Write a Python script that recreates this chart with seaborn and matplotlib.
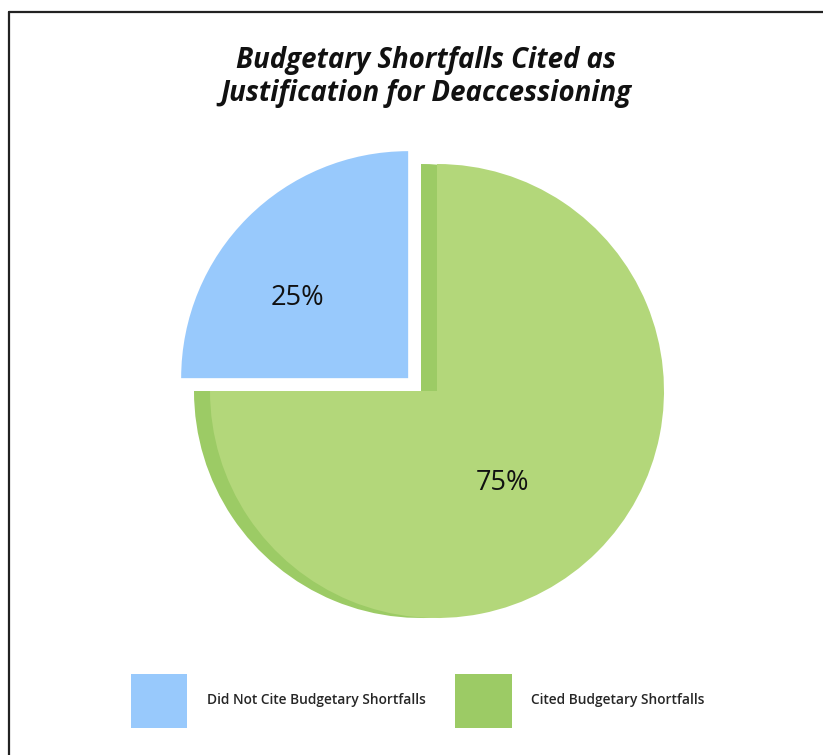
import matplotlib
matplotlib.use("Agg")
import matplotlib.pyplot as plt
from matplotlib.patches import Patch
from matplotlib.lines import Line2D
import seaborn as sns

sns.set_theme(style="white")
plt.rcParams['font.family'] = ['Open Sans', 'DejaVu Sans']

title = "Budgetary Shortfalls Cited as\nJustification for Deaccessioning"
categories = ["Did Not Cite Budgetary Shortfalls", "Cited Budgetary Shortfalls"]
values = [25, 75]
face_colors = ["#98C9FC", "#B3D77A"]
edge_colors = ["#98C9FC", "#9CCB65"]
legend_colors = ["#98C9FC", "#9CCB65"]

W, H = 823, 755
fig = plt.figure(figsize=(W / 100, H / 100), dpi=100)
ax = fig.add_axes([0, 0, 1, 1])

cx, cy, R = 421, 391, 227
shift = 16 / R
explode = [0.08, 0]

# Shadow layer (darker green) + blue slice, with percentage labels
_, _, autotexts = ax.pie(values, startangle=90, colors=[face_colors[0], edge_colors[1]],
                         explode=explode, autopct='%d%%', pctdistance=0.6,
                         textprops=dict(fontsize=19.5, color='#111111'),
                         wedgeprops=dict(linewidth=0))
# Face layer (lighter green), shifted right
w2, _ = ax.pie(values, startangle=90, colors=['none', face_colors[1]],
               explode=explode, center=(shift, 0),
               wedgeprops=dict(linewidth=0))
w2[0].set_visible(False)
for t in autotexts:
    t.set_zorder(10)
autotexts[0].set_position((-0.546, 0.41))
autotexts[1].set_position((0.361, -0.405))

ax.set_xlim(-cx / R, (W - cx) / R)
ax.set_ylim((cy - H) / R, cy / R)
ax.axis('off')

fig.text(426 / W, 1 - 77 / H, title, ha='center', va='center',
         fontsize=19.9, fontweight='bold', fontstyle='italic',
         linespacing=1.22, color='#111111')

handles = [Patch(facecolor=c, edgecolor='none') for c in legend_colors]
fig.legend(handles, categories, loc='center', bbox_to_anchor=(418 / W, 1 - 701 / H),
           ncol=2, frameon=False, handlelength=4.1, handleheight=5.6,
           handletextpad=1.45, columnspacing=2.1, prop=dict(weight='semibold', size=9.9))

# border lines (left & top)
fig.add_artist(Line2D([8.5 / W, 8.5 / W], [0, 1 - 11.5 / H], transform=fig.transFigure,
                      color='#222222', linewidth=1.6))
fig.add_artist(Line2D([8.5 / W, 1], [1 - 11.5 / H, 1 - 11.5 / H], transform=fig.transFigure,
                      color='#222222', linewidth=1.6))

fig.savefig("out.png", dpi=100)
